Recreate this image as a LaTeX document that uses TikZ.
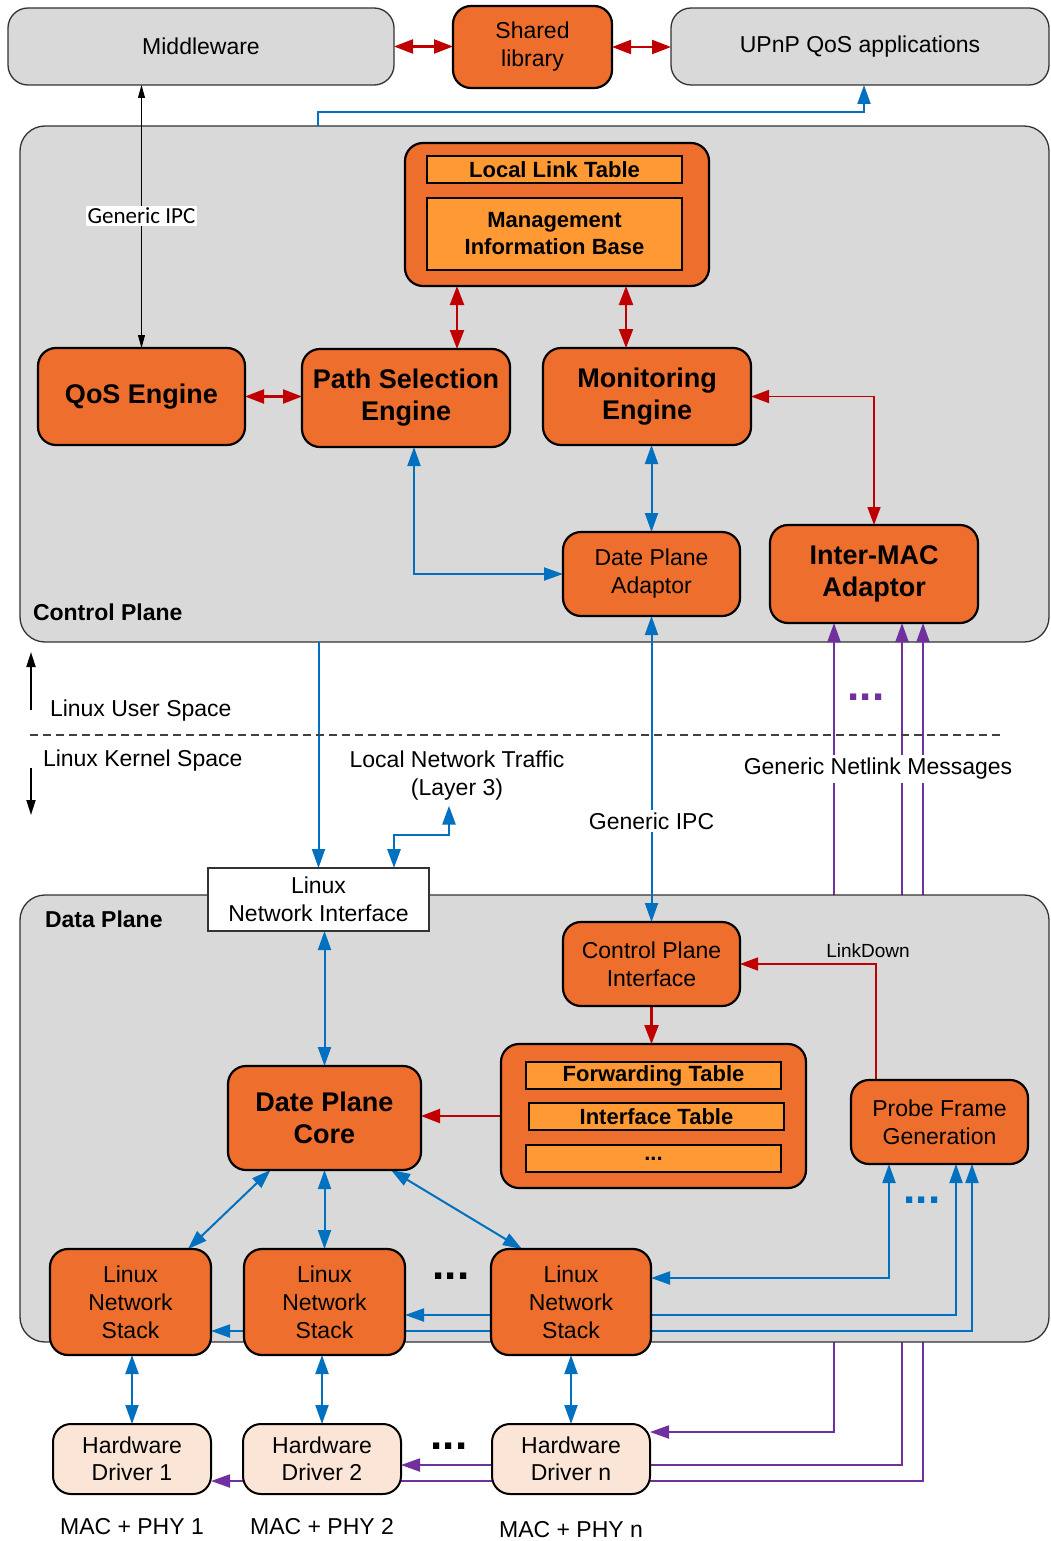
\documentclass[tikz,border=0pt]{standalone}
\usepackage{fontspec}
\setmainfont{Liberation Sans}
\newfontfamily\carl{Carlito}
\usetikzlibrary{arrows.meta}
\pgfdeclarelayer{cpl}
\pgfdeclarelayer{purp}
\pgfdeclarelayer{dpl}
\pgfdeclarelayer{lines}
\pgfsetlayers{cpl,purp,dpl,lines,main}
\definecolor{orng}{RGB}{237,110,45}
\definecolor{lorng}{RGB}{255,153,51}
\definecolor{gry}{RGB}{217,217,217}
\definecolor{blu}{RGB}{0,112,192}
\definecolor{rd}{RGB}{192,0,0}
\definecolor{prp}{RGB}{112,48,160}
\definecolor{pch}{RGB}{251,229,214}
\newcommand\fsz[2]{\fontsize{#1}{#2}\selectfont}
\begin{document}
\begin{tikzpicture}[x=1pt,y=-1pt,
  every node/.style={align=center, inner sep=0pt, outer sep=0pt},
  obox/.style={draw=black, line width=2.2pt, fill=orng, rounded corners=18pt},
  gbox/.style={draw=black!80, line width=1.3pt, fill=gry, rounded corners=20pt},
  tbox/.style={draw=black, line width=1.3pt, fill=lorng},
  hbox/.style={draw=black, line width=2pt, fill=pch, rounded corners=18pt},
  nrm/.style={font=\fsz{23}{28}},
  bld/.style={font=\fsz{27}{32}\bfseries},
  tbl/.style={font=\fsz{22}{27}\bfseries},
  bluar/.style={draw=blu, line width=2pt, >={Triangle[length=19pt,width=13pt]}},
  prpar/.style={draw=prp, line width=2pt, >={Triangle[length=19pt,width=13pt]}},
  redar/.style={draw=rd, line width=2.2pt, >={Triangle[length=19pt,width=14pt]}},
  redthin/.style={draw=rd, line width=1.6pt, >={Triangle[length=18pt,width=13pt]}},
  blkar/.style={draw=black, line width=0.9pt, >={Triangle[length=13pt,width=7pt]}},
  blkthick/.style={draw=black, line width=1.8pt, >={Triangle[length=15pt,width=9pt]}},
  dotsty/.style={font=\fsz{44}{44}\bfseries}
]
\useasboundingbox (0,0) rectangle (1050,1541);
\begin{pgfonlayer}{cpl}
  \fill[white] (0,0) rectangle (1050,1541);
  \node[gbox, rounded corners=25pt, minimum width=1029pt, minimum height=516pt] (cp) at (534.5,384) {};
\end{pgfonlayer}
\begin{pgfonlayer}{dpl}
  \node[gbox, rounded corners=25pt, minimum width=1029pt, minimum height=447pt] (dp) at (534.5,1118.5) {};
\end{pgfonlayer}

% top
\node[gbox, nrm, minimum width=386pt, minimum height=77pt] (mw) at (201,46.5) {Middleware};
\node[obox, nrm, minimum width=159pt, minimum height=82pt] (shl) at (532.5,47) {Shared\\library};
\node[gbox, nrm, minimum width=378pt, minimum height=77pt] (upnp) at (860,46.5) {UPnP QoS applications};

% control plane
\node[obox, minimum width=304pt, minimum height=143pt] (mgmt) at (557,214.5) {};
\node[tbox, tbl, minimum width=255pt, minimum height=27pt] (llt) at (554.5,169.5) {Local Link Table};
\node[tbox, tbl, minimum width=255pt, minimum height=72pt] (mib) at (554.5,234) {Management\\Information Base};
\node[obox, bld, minimum width=207pt, minimum height=97pt] (qos) at (141.5,396.5) {QoS Engine};
\node[obox, bld, minimum width=208pt, minimum height=98pt] (pse) at (406,398) {Path Selection\\Engine};
\node[obox, bld, minimum width=208pt, minimum height=97pt] (mon) at (647,396.5) {Monitoring\\Engine};
\node[obox, nrm, minimum width=177pt, minimum height=84pt] (dpa) at (651.5,574) {Date Plane\\Adaptor};
\node[obox, bld, minimum width=208pt, minimum height=98pt] (ima) at (874,574) {Inter-MAC\\Adaptor};
\node[font=\fsz{23}{28}\bfseries, anchor=west] (cplab) at (33,612) {Control Plane};

% middle labels
\node[nrm, anchor=west] (us) at (50,711) {Linux User Space};
\node[nrm, anchor=west] (ks) at (43,761) {Linux Kernel Space};
\node[nrm] (ltr) at (457,776) {Local Network Traffic\\(Layer 3)};
\node[draw=black!80, line width=1.2pt, fill=white, nrm, minimum width=221pt, minimum height=63pt] (lni) at (318.5,899.5) {Linux\\Network Interface};

% data plane
\node[font=\fsz{23}{28}\bfseries, anchor=west] (dplab) at (45,919) {Data Plane};
\node[obox, nrm, minimum width=177pt, minimum height=84pt] (cpi) at (651.5,964) {Control Plane\\Interface};
\node[obox, minimum width=305pt, minimum height=144pt] (fwd) at (653.5,1116) {};
\node[tbox, tbl, minimum width=255pt, minimum height=27pt] (ft) at (653.5,1075.5) {Forwarding Table};
\node[tbox, tbl, minimum width=255pt, minimum height=27pt] (it) at (656.5,1116.5) {Interface Table};
\node[tbox, tbl, minimum width=255pt, minimum height=27pt] (etc) at (653.5,1158.5) {...};
\node[obox, bld, minimum width=193pt, minimum height=104pt] (dpc) at (324.5,1118) {Date Plane\\Core};
\node[obox, nrm, minimum width=177pt, minimum height=84pt] (pfg) at (939.5,1122) {Probe Frame\\Generation};
\node[obox, nrm, minimum width=161pt, minimum height=106pt] (lns1) at (130.5,1302) {Linux\\Network\\Stack};
\node[obox, nrm, minimum width=161pt, minimum height=106pt] (lns2) at (324.5,1302) {Linux\\Network\\Stack};
\node[obox, nrm, minimum width=160pt, minimum height=106pt] (lnsn) at (571,1302) {Linux\\Network\\Stack};
\node[hbox, font=\fsz{23}{27}, minimum width=158pt, minimum height=70pt] (hd1) at (132,1459) {Hardware\\Driver 1};
\node[hbox, font=\fsz{23}{27}, minimum width=158pt, minimum height=70pt] (hd2) at (322,1459) {Hardware\\Driver 2};
\node[hbox, font=\fsz{23}{27}, minimum width=158pt, minimum height=70pt] (hdn) at (571,1459) {Hardware\\Driver n};
\node[nrm] (mac1) at (132,1527) {MAC + PHY 1};
\node[nrm] (mac2) at (322,1527) {MAC + PHY 2};
\node[nrm] (macn) at (571,1530) {MAC + PHY n};
\node[dotsty] (dots1) at (451,1276) {...};
\node[dotsty] (dots2) at (449,1446) {...};
\node[dotsty, text=prp] (dots3) at (866,697) {...};
\node[dotsty, text=blu] (dots4) at (922,1200) {...};
\node[font=\fsz{19}{22}] (ld) at (868,951) {LinkDown};

% purple netlink lines (behind data plane)
\begin{pgfonlayer}{purp}
  \coordinate (i1) at ([xshift=-40pt]ima.south);
  \coordinate (i2) at ([xshift=28pt]ima.south);
  \coordinate (i3) at ([xshift=49pt]ima.south);
  \draw[prpar,<->] ([yshift=27pt]hdn.east) -| (i1);
  \draw[prpar,<->] ([yshift=-6pt]hd2.east) -| (i2);
  \draw[prpar,<->] ([yshift=-22pt]hd1.east) -| (i3);
\end{pgfonlayer}
\node[nrm, fill=white, inner sep=3pt] (gnm) at (878,769) {Generic Netlink Messages};

\begin{pgfonlayer}{lines}
  % top
  \draw[redar,<->] (mw.east) -- (mw.east -| shl.west);
  \draw[redar,<->] (shl.east) -- (shl.east -| upnp.west);
  \draw[bluar,->] ([xshift=-216.5pt]cp.north) |- ([xshift=4pt,yshift=-27pt]upnp.south) -- ([xshift=4pt]upnp.south);
  \draw[blkar,<->] (qos.north) -- (qos.north |- mw.south);
  % control plane
  \coordinate (r1) at ([xshift=51pt]pse.north);
  \draw[redar,<->] (r1) -- (r1 |- mgmt.south);
  \coordinate (r2) at ([xshift=-21pt]mon.north);
  \draw[redar,<->] (r2) -- (r2 |- mgmt.south);
  \draw[redar,<->] (qos.east) -- (qos.east -| pse.west);
  \draw[redthin,<->] (mon.east) -| (ima.north);
  \coordinate (b1) at ([xshift=8pt]pse.south);
  \draw[bluar,<->] (b1) |- (dpa.west);
  \draw[bluar,<->] (dpa.north |- mon.south) -- (dpa.north);
  \draw[bluar,<->] (dpa.south) -- (cpi.north);
  \draw[bluar,->] (lni.north |- cp.south) -- (lni.north);
  \coordinate (b2) at ([xshift=75.5pt]lni.north);
  \draw[bluar,line width=2.8pt,<->] (b2) -- ++(0,-33) -| ([xshift=-8pt,yshift=-5pt]ltr.south);
  % space divider
  \draw[draw=black!75, line width=1.3pt, dash pattern=on 8pt off 5pt] (30,735) -- (1000,735);
  \draw[blkthick,->] ([xshift=-19pt,yshift=1pt]us.west) -- ++(0,-58);
  \draw[blkthick,->] ([xshift=-12pt,yshift=-7pt]ks.west) -- ++(0,47);
  % data plane
  \draw[bluar,<->] (dpc.north |- lni.south) -- (dpc.north);
  \draw[redar,->] (cpi.south) -- (cpi.south |- fwd.north);
  \coordinate (r3) at ([xshift=-63.5pt]pfg.north);
  \draw[redthin,->] (r3) |- (cpi.east);
  \draw[redar,->] (fwd.west) -- (fwd.west -| dpc.east);
  \draw[bluar,<->] ([xshift=-54pt]dpc.south) -- ([xshift=57.5pt]lns1.north);
  \draw[bluar,<->] (dpc.south) -- (dpc.south |- lns2.north);
  \draw[bluar,<->] ([xshift=66.5pt]dpc.south) -- ([xshift=-49pt]lnsn.north);
  \coordinate (q1) at ([xshift=-50.5pt]pfg.south);
  \coordinate (q2) at ([xshift=16.5pt]pfg.south);
  \coordinate (q3) at ([xshift=32.5pt]pfg.south);
  \draw[bluar,<->] (q1) |- ([yshift=24pt]lnsn.east);
  \draw[bluar,<->] (q2) |- ([yshift=-13pt]lns2.east);
  \draw[bluar,<->] (q3) |- ([yshift=-29pt]lns1.east);
  \draw[bluar,<->] (hd1.north |- lns1.south) -- (hd1.north);
  \draw[bluar,<->] (hd2.north |- lns2.south) -- (hd2.north);
  \draw[bluar,<->] (hdn.north |- lnsn.south) -- (hdn.north);
\end{pgfonlayer}
\node[fill=white, font=\carl\fsz{23}{27}, inner sep=2pt] (gipc1) at (141.5,216) {Generic IPC};
\node[fill=white, nrm, inner sep=3pt] (gipc2) at (651.5,821) {Generic IPC};
\end{tikzpicture}
\end{document}
